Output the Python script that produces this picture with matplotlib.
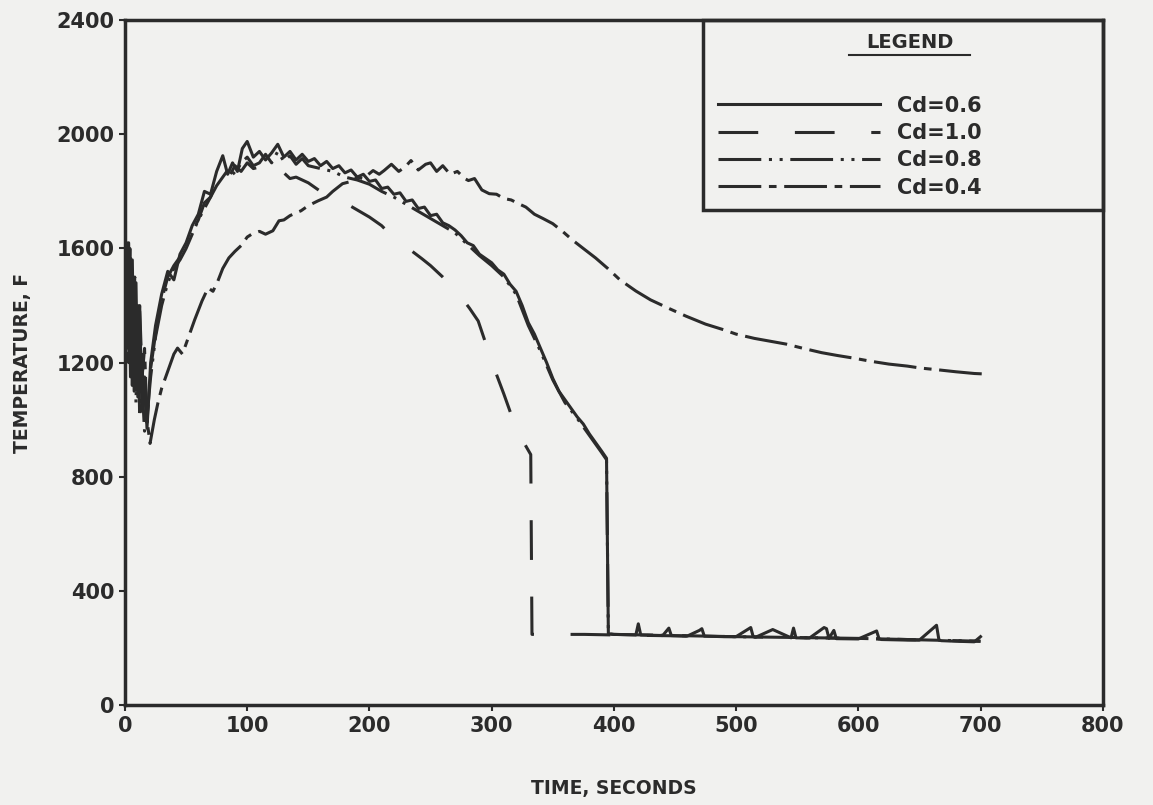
import matplotlib
matplotlib.use("Agg")
import matplotlib.pyplot as plt
import numpy as np
from matplotlib.patches import Rectangle

# Cd = 0.6 (solid)
t_06 = [0, 1.5, 3, 4.5, 6, 7.5, 9, 10.5, 12, 14, 16, 18, 21, 25, 30, 35, 40, 45, 50, 55,
        60, 65, 70, 75, 80, 84, 88, 92, 96, 100, 105, 110, 115, 120, 125, 130, 135, 140, 145, 150,
        155, 160, 165, 170, 175, 180, 185, 190, 195, 200, 205, 210, 215, 220, 225, 230, 235, 240,
        245, 250, 255, 260, 265, 270, 275, 280, 285, 290, 295, 300, 305, 310, 315, 320, 325, 330,
        335, 340, 345, 350, 355, 360, 365, 370, 375, 380, 385, 390, 394, 395.5,
        400, 418, 420, 422, 440, 445, 447, 460, 470, 472, 474, 490, 500, 512, 514, 516, 530,
        545, 547, 549, 560, 572, 574, 576, 580, 582, 600, 615, 617, 619, 640, 650, 664, 666,
        668, 680, 695, 700]
T_06 = [1580, 1250, 1620, 1150, 1560, 1100, 1480, 1080, 1380, 1030, 1150, 970, 1200, 1330, 1440,
        1520, 1490, 1580, 1620, 1680, 1720, 1800, 1790, 1870, 1925, 1860, 1900, 1870, 1950, 1975,
        1920, 1940, 1910, 1935, 1965, 1920, 1940, 1910, 1930, 1905, 1915, 1890, 1905, 1880, 1890,
        1865, 1875, 1850, 1860, 1835, 1840, 1810, 1815, 1790, 1795, 1765, 1770, 1740, 1745, 1715,
        1720, 1690, 1680, 1665, 1645, 1620, 1610, 1580, 1565, 1550, 1525, 1510, 1475, 1450, 1400,
        1340, 1300, 1250, 1200, 1145, 1100, 1070, 1040, 1010, 985, 950, 920, 890, 865, 250,
        248, 246, 285, 246, 244, 270, 244, 242, 262, 268, 242, 240, 240, 272, 240, 238, 265,
        236, 270, 236, 235, 272, 268, 234, 262, 233, 232, 260, 232, 230, 228, 228, 280, 228,
        226, 224, 222, 240]

# Cd = 1.0 (dashed)
t_10 = [0, 1.5, 3, 4.5, 6, 7.5, 9, 10.5, 12, 14, 16, 18, 21, 25, 30, 35, 40, 45, 50, 55,
        60, 65, 70, 75, 80, 85, 90, 95, 100, 105, 110, 115, 120, 125, 130, 135, 140, 145, 150,
        160, 170, 180, 190, 200, 210, 218, 225, 235, 243, 250, 260, 267, 275, 282, 289, 295,
        302, 310, 318, 325, 332, 333, 346, 376, 400, 500, 600, 700]
T_10 = [1600, 1300, 1550, 1200, 1500, 1150, 1420, 1100, 1300, 1050, 1100, 990, 1180, 1300, 1420,
        1500, 1540, 1570, 1610, 1660, 1700, 1760, 1780, 1840, 1880, 1850, 1890, 1870, 1900, 1880,
        1885, 1860, 1880, 1860, 1865, 1845, 1850, 1840, 1830, 1800, 1780, 1760, 1735, 1710, 1680,
        1645, 1620, 1590, 1564, 1540, 1500, 1469, 1430, 1390, 1346, 1270, 1181, 1090, 994, 930,
        878, 248, 248, 248, 246, 240, 234, 224]

# Cd = 0.8 (dash-dot-dot), nearly on top of Cd = 0.6
t_08 = [0, 1.5, 3, 4.5, 6, 7.5, 9, 10.5, 12, 14, 16, 18, 21, 25, 30, 35, 40, 45, 50, 55,
        60, 65, 70, 75, 80, 85, 90, 95, 100, 105, 110, 115, 120, 125, 130, 135, 140, 145, 150,
        160, 170, 180, 190, 200, 210, 220, 230, 240, 250, 260, 270, 280, 290, 300, 310, 320,
        330, 340, 350, 360, 370, 380, 390, 394, 395.5, 400, 500, 600, 700]
T_08 = [1500, 1620, 1200, 1580, 1120, 1500, 1060, 1400, 1010, 1120, 960, 1010, 1150, 1290, 1400,
        1480, 1530, 1560, 1600, 1650, 1700, 1740, 1780, 1820, 1850, 1880, 1860, 1900, 1920, 1890,
        1900, 1930, 1900, 1940, 1905, 1925, 1895, 1915, 1890, 1880, 1870, 1850, 1840, 1825, 1800,
        1780, 1755, 1730, 1705, 1680, 1655, 1615, 1575, 1540, 1500, 1440, 1330, 1240, 1140, 1060,
        1005, 945, 885, 860, 250, 248, 240, 234, 224]

# Cd = 0.4 (dash-short dash)
t_04 = [0, 2, 4, 6, 8, 10, 12, 14, 16, 18, 20.5, 24, 27, 30, 35, 40, 43, 47, 52, 57, 63, 68, 72,
        76, 80, 85, 90, 95, 100, 104, 110, 115, 121, 126, 130, 135, 140, 144, 150, 158, 165, 170,
        178, 185, 190, 195, 203, 208, 212, 218, 224, 229, 234, 240, 246, 250, 255, 260, 266, 272,
        278, 281, 286, 292, 298, 304, 310, 316, 322, 328, 335, 342, 350, 358, 366, 375, 385, 395,
        405, 418, 430, 445, 459, 475, 490, 500, 515, 528, 541, 555, 570, 583, 596, 610, 625, 640,
        651, 665, 680, 695, 705]
T_04 = [1620, 1350, 1600, 1250, 1500, 1200, 1400, 1150, 1250, 1000, 917, 1000, 1060, 1110, 1170,
        1230, 1251, 1230, 1290, 1350, 1416, 1462, 1450, 1486, 1530, 1567, 1590, 1610, 1640, 1651,
        1660, 1650, 1662, 1697, 1700, 1715, 1725, 1732, 1750, 1767, 1780, 1800, 1827, 1835, 1850,
        1845, 1873, 1860, 1873, 1895, 1870, 1885, 1908, 1875, 1895, 1900, 1870, 1890, 1860, 1870,
        1845, 1838, 1845, 1805, 1792, 1790, 1775, 1770, 1757, 1745, 1720, 1705, 1687, 1660, 1630,
        1600, 1567, 1530, 1490, 1451, 1420, 1390, 1363, 1335, 1315, 1300, 1285, 1275, 1265, 1250,
        1235, 1225, 1216, 1205, 1195, 1188, 1181, 1175, 1168, 1162, 1160]

x_ticks = [0, 100, 200, 300, 400, 500, 600, 700, 800]
y_ticks = [0, 400, 800, 1200, 1600, 2000, 2400]

ink = '#2b2b2b'
paper = '#f1f1ef'
plt.rcParams['font.family'] = ['DejaVu Sans']

fig = plt.figure(figsize=(11.53, 8.05), dpi=100, facecolor=paper)
ax = fig.add_axes([0.1084, 0.124, 0.848, 0.851], facecolor=paper)

lw = 2.2
ax.plot(t_06, T_06, color=ink, lw=lw, linestyle='-', label='Cd=0.6')
ax.plot(t_10, T_10, color=ink, lw=lw, linestyle=(0, (13, 12)), label='Cd=1.0')
ax.plot(t_08, T_08, color=ink, lw=lw, linestyle=(0, (14, 2.5, 1, 2.5, 1, 2.5)), label='Cd=0.8')
ax.plot(t_04, T_04, color=ink, lw=lw, linestyle=(0, (14, 2.5, 2.5, 2.5)), label='Cd=0.4')

ax.set_xlim(0, 800)
ax.set_ylim(0, 2400)
ax.set_xticks(x_ticks)
ax.set_yticks(y_ticks)
ax.tick_params(axis='both', labelsize=15, colors=ink, direction='out', length=4, width=1.5)
for lab in ax.get_xticklabels() + ax.get_yticklabels():
    lab.set_fontweight('bold')
for s in ax.spines.values():
    s.set_color(ink)
    s.set_linewidth(2.5)

ax.set_xlabel('TIME, SECONDS', fontsize=13.5, fontweight='bold', color=ink, labelpad=31)
ax.set_ylabel('TEMPERATURE, F', fontsize=13.5, fontweight='bold', color=ink, labelpad=18)

# legend box in the upper right corner
ax.add_patch(Rectangle((0.591, 0.7226), 0.409, 0.2774, transform=ax.transAxes,
                       fill=False, edgecolor=ink, lw=2.5, clip_on=False, zorder=5))
ax.text(0.803, 0.981, 'LEGEND', transform=ax.transAxes, ha='center', va='top',
        fontsize=14, fontweight='bold', color=ink)
ax.plot([0.741, 0.864], [0.949, 0.949], transform=ax.transAxes, color=ink, lw=1.5)

leg = ax.legend(loc='upper left', bbox_to_anchor=(0.587, 0.917), frameon=False,
                handlelength=7.8, handletextpad=0.8, labelspacing=0.35,
                prop={'size': 15, 'weight': 'bold'})
for txt in leg.get_texts():
    txt.set_color(ink)

fig.savefig('out.png', dpi=100, facecolor=paper)
